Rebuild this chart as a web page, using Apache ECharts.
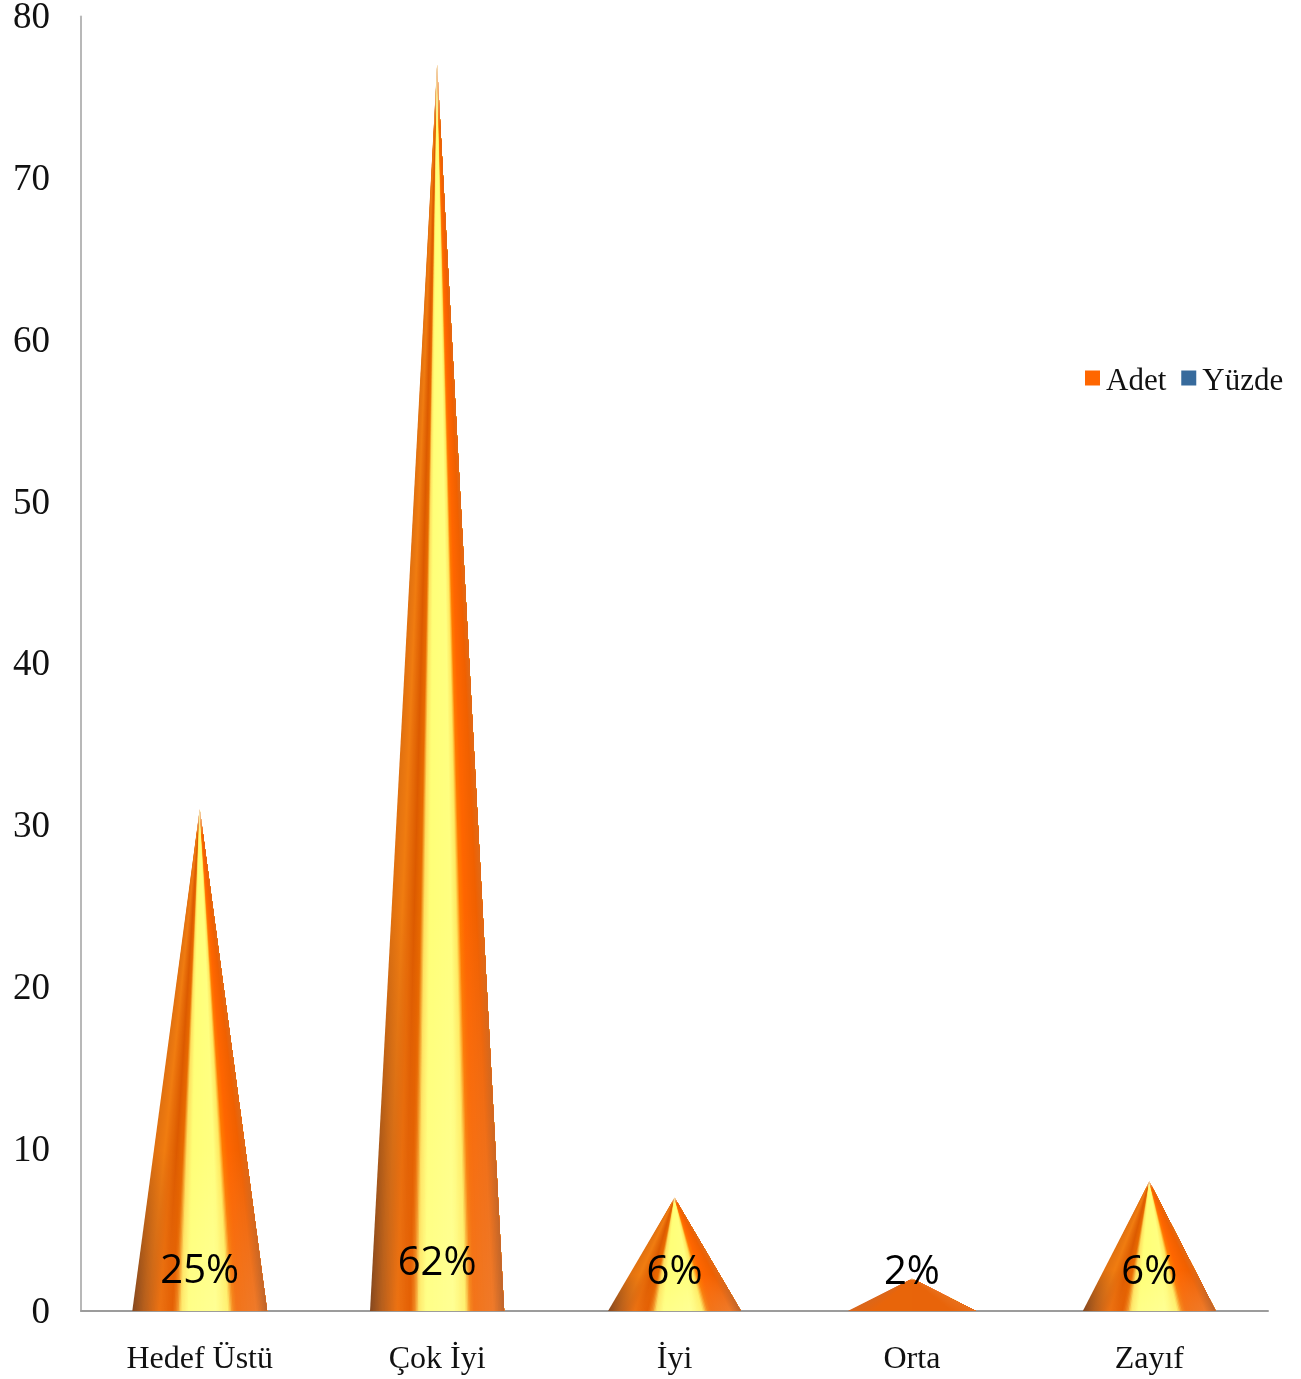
<!DOCTYPE html>
<html>
<head>
<meta charset="utf-8">
<style>html,body{margin:0;padding:0;background:#fff}#c{width:1301px;height:1379px}</style>
<script src="https://cdn.jsdelivr.net/npm/echarts@6/dist/echarts.min.js"></script>
</head>
<body>
<div id="c"></div>
<script>
const categories = ['Hedef Üstü', 'Çok İyi', 'İyi', 'Orta', 'Zayıf'];
const adet = [31, 77, 7, 2, 8];
const yuzde = [25, 62, 6, 2, 6];
const yTicks = [0, 10, 20, 30, 40, 50, 60, 70, 80];

// Styling only
const baseShare = [0.568, 0.565, 0.56, 0.54, 0.56];
const labelLift = [39, 47, 38, 38, 38];
const baseStops = [
  [0, '#84481f'], [0.08, '#b25d1d'], [0.2, '#ec7212'], [0.3, '#e45f04'],
  [0.335, '#f08a22'], [0.365, '#ffe86c'], [0.42, '#ffff88'], [0.62, '#ffff94'],
  [0.71, '#fff070'], [0.745, '#f58a20'], [0.775, '#f2741a'], [0.92, '#ef7a2a'], [1, '#bd642c']
];
const upperStops = [
  [0, '#e07010'], [0.12, '#f07c10'], [0.25, '#dc5a00'], [0.32, '#e86a00'],
  [0.36, '#ffe060'], [0.42, '#ffff78'], [0.65, '#ffff80'], [0.71, '#ffe860'],
  [0.75, '#ff7a00'], [0.8, '#ff6600'], [0.93, '#f06000'], [1, '#e06a18']
];
const flatStops = [[0, '#d9661c'], [0.2, '#e8650a'], [0.8, '#e8640a'], [1, '#e8701c']];
const tipColor = '#f2d9b4';
const SLICES = 90;

function hex(c) { return [1, 3, 5].map(k => parseInt(c.substr(k, 2), 16)); }
function colorAt(stops, t) {
  for (let k = 1; k < stops.length; k++) {
    if (t <= stops[k][0]) {
      const a = stops[k - 1], b = stops[k];
      const f = (t - a[0]) / (b[0] - a[0]);
      const ca = hex(a[1]), cb = hex(b[1]);
      return 'rgb(' + ca.map((v, n) => Math.round(v + (cb[n] - v) * f)).join(',') + ')';
    }
  }
  return stops[stops.length - 1][1];
}

function renderCone(params, api) {
  const i = api.value(0);
  const base = api.coord([i, 0]);
  const apex = api.coord([i, api.value(1)]);
  const width = api.size([1, 0])[0] * baseShare[i];
  const lower = i === 3 ? flatStops : baseStops;
  const upper = i === 3 ? flatStops : upperStops;
  const left = base[0] - width / 2, right = base[0] + width / 2;
  const children = [];
  for (let s = 0; s < SLICES; s++) {
    const t = (s + 0.5) / SLICES;
    const up = colorAt(upper, t);
    children.push({
      type: 'polygon',
      shape: { points: [[left + width * s / SLICES, base[1]], [right, base[1]], apex] },
      style: {
        fill: {
          type: 'linear', x: 0, y: 0, x2: 0, y2: 1,
          colorStops: [
            { offset: 0, color: tipColor },
            { offset: 0.05, color: up },
            { offset: 0.68, color: up },
            { offset: 1, color: colorAt(lower, t) }
          ]
        }
      },
      silent: true
    });
  }
  return { type: 'group', children };
}

function renderPercent(params, api) {
  const i = api.value(0);
  const p = api.coord([i, 0]);
  return {
    type: 'text',
    x: p[0],
    y: p[1] - labelLift[i],
    silent: true,
    style: {
      text: api.value(1) + '%',
      fill: '#000',
      font: '40px "Open Sans", "Noto Sans", sans-serif',
      align: 'center',
      verticalAlign: 'middle'
    }
  };
}

const serif = '"Liberation Serif", "Times New Roman", serif';
const chart = echarts.init(document.getElementById('c'), null, { renderer: 'canvas' });
chart.setOption({
  animation: false,
  backgroundColor: '#fff',
  grid: { left: 81, right: 33, top: 15, bottom: 68, containLabel: false },
  legend: {
    left: 1085, top: 366, padding: 0,
    itemWidth: 15, itemHeight: 15, itemGap: 15, icon: 'rect',
    formatter: name => '{v|' + name + '}',
    textStyle: {
      rich: { v: { fontFamily: serif, fontSize: 31, color: '#111', padding: [7, 0, 0, 1] } }
    },
    data: ['Adet', 'Yüzde']
  },
  xAxis: {
    type: 'category', data: categories,
    axisLine: { lineStyle: { color: '#9c9c9c', width: 2 } },
    axisTick: { show: false },
    axisLabel: { fontFamily: serif, fontSize: 32, color: '#111', margin: 33 }
  },
  yAxis: {
    type: 'value', min: 0, max: yTicks[yTicks.length - 1], interval: yTicks[1] - yTicks[0],
    axisLine: { show: true, lineStyle: { color: '#b8b8b8', width: 2 } },
    axisTick: { show: false },
    splitLine: { show: false },
    axisLabel: {
      margin: 31, showMaxLabel: true, showMinLabel: true,
      formatter: '{v|{value}}',
      rich: { v: { fontFamily: serif, fontSize: 37, color: '#111', padding: [4, 0, 0, 0] } }
    }
  },
  series: [
    {
      name: 'Adet', type: 'custom', renderItem: renderCone, clip: false,
      encode: { x: 0, y: 1 }, itemStyle: { color: '#ff6600' },
      data: adet.map((v, i) => [i, v])
    },
    {
      name: 'Yüzde', type: 'custom', renderItem: renderPercent, clip: false, z: 5,
      encode: { x: 0, y: 1 }, itemStyle: { color: '#376a9c' },
      data: yuzde.map((v, i) => [i, v])
    }
  ]
});
</script>
</body>
</html>
